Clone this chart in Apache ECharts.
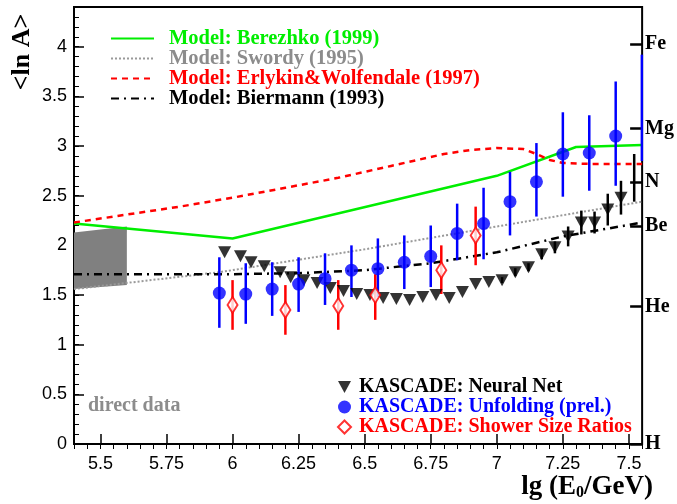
<!DOCTYPE html>
<html><head><meta charset="utf-8">
<script src="https://cdn.jsdelivr.net/npm/echarts@6/dist/echarts.min.js"></script>
<style>html,body{margin:0;padding:0;background:#fff}#c{width:677px;height:504px}</style>
</head><body><div id="c"></div>
<script>
// ---- axis ticks / labels ----
const xTickLabels = [5.5, 5.75, 6, 6.25, 6.5, 6.75, 7, 7.25, 7.5];
const yTickLabels = [0, 0.5, 1, 1.5, 2, 2.5, 3, 3.5, 4];
const elementNames = ['H', 'He', 'Be', 'N', 'Mg', 'Fe'];
const elementLnA = [0, 1.386, 2.197, 2.639, 3.178, 4.025];

// ---- models ----
const berX = [5.4, 6.0, 7.0, 7.3, 7.55];
const berY = [2.22, 2.07, 2.70, 2.99, 3.01];
const swoX = [5.4, 5.95, 6.5, 7.0, 7.55];
const swoY = [1.56, 1.73, 1.96, 2.19, 2.44];
const erlX = [5.4, 5.6, 5.8, 6.0, 6.2, 6.4, 6.6, 6.8, 6.9, 7.0, 7.1, 7.15, 7.2, 7.25, 7.35, 7.55];
const erlY = [2.23, 2.31, 2.39, 2.48, 2.58, 2.68, 2.80, 2.92, 2.96, 2.98, 2.97, 2.92, 2.86, 2.83, 2.82, 2.82];
const bieX = [5.4, 6.0, 6.25, 6.5, 6.75, 7.0, 7.25, 7.55];
const bieY = [1.71, 1.71, 1.72, 1.75, 1.82, 1.93, 2.09, 2.23];

// ---- direct data band ----
const directX = [5.4, 5.6];
const directLo = [1.56, 1.60];
const directHi = [2.13, 2.19];

// ---- KASCADE Neural Net ----
const nnX = [5.97, 6.03, 6.07, 6.12, 6.18, 6.22, 6.27, 6.32, 6.37, 6.42, 6.47, 6.52, 6.57, 6.62, 6.67, 6.72, 6.77, 6.82, 6.87, 6.92, 6.97, 7.02, 7.07, 7.12, 7.17, 7.22, 7.27, 7.32, 7.37, 7.42, 7.47, 7.52];
const nnY = [1.93, 1.89, 1.83, 1.79, 1.73, 1.68, 1.65, 1.62, 1.57, 1.54, 1.51, 1.50, 1.47, 1.46, 1.45, 1.48, 1.50, 1.47, 1.53, 1.61, 1.63, 1.65, 1.73, 1.78, 1.91, 1.98, 2.09, 2.23, 2.23, 2.36, 2.48, 2.68];
const nnErr = [0, 0, 0, 0, 0, 0, 0, 0, 0, 0, 0, 0, 0, 0, 0, 0, 0, 0, 0, 0, 0, 0.03, 0.04, 0.04, 0.05, 0.06, 0.10, 0.12, 0.11, 0.16, 0.17, 0.24];
const nnHidden = [31];

// ---- KASCADE Unfolding ----
const unfX = [5.95, 6.05, 6.15, 6.25, 6.35, 6.45, 6.55, 6.65, 6.75, 6.85, 6.95, 7.05, 7.15, 7.25, 7.35, 7.45, 7.549];
const unfY = [1.52, 1.51, 1.56, 1.61, 1.665, 1.75, 1.765, 1.83, 1.89, 2.12, 2.22, 2.44, 2.64, 2.92, 2.93, 3.10, 3.40];
const unfLo = [1.17, 1.21, 1.29, 1.33, 1.40, 1.48, 1.48, 1.56, 1.58, 1.85, 1.86, 2.10, 2.29, 2.49, 2.55, 2.60, 2.85];
const unfHi = [1.88, 1.82, 1.83, 1.88, 1.92, 2.00, 2.07, 2.10, 2.20, 2.42, 2.58, 2.74, 3.03, 3.34, 3.31, 3.65, 3.92];
const unfHidden = [16];

// ---- KASCADE Shower Size Ratios ----
const ssrX = [6.0, 6.2, 6.4, 6.54, 6.79, 6.92];
const ssrY = [1.40, 1.35, 1.39, 1.50, 1.75, 2.10];
const ssrLo = [1.15, 1.10, 1.15, 1.25, 1.51, 1.80];
const ssrHi = [1.65, 1.60, 1.65, 1.71, 2.00, 2.39];

const SERIF = '"Liberation Serif","Times New Roman",serif';
const SANS = '"Liberation Sans",Arial,sans-serif';
const GREEN = '#00ee00', GRAY = '#8c8c8c', RED = '#ff0000', BLUE = '#0000ff';

const zip = (a, b) => a.map((v, i) => [v, b[i]]);

function errSeries(data, color) {
  return {
    type: 'custom', z: 4, silent: true,
    encode: { x: 0, y: [1, 2] },
    data: data,
    renderItem: function (params, api) {
      const p1 = api.coord([api.value(0), api.value(1)]);
      const p2 = api.coord([api.value(0), api.value(2)]);
      return { type: 'line', shape: { x1: p1[0], y1: p1[1], x2: p2[0], y2: p2[1] },
               style: { stroke: color, lineWidth: 2.5 } };
    }
  };
}

const chart = echarts.init(document.getElementById('c'), null, { renderer: 'canvas' });
const gridBox = { left: 74, right: 33, top: 7, bottom: 60 };
const noSym = { color: 'rgba(0,0,0,0)', borderWidth: 0, opacity: 0 };

const option = {
  animation: false,
  backgroundColor: '#fff',
  grid: Object.assign({ show: true, borderColor: '#000', borderWidth: 2, backgroundColor: 'transparent' }, gridBox),
  xAxis: [
    { type: 'value', min: 5.4, max: 7.55, interval: 0.05,
      axisLine: { show: false }, splitLine: { show: false },
      axisTick: { show: true, inside: true, length: 10, lineStyle: { color: '#000', width: 1.5 }, customValues: xTickLabels },
      axisLabel: { show: true, customValues: xTickLabels, color: '#000', fontFamily: SANS, fontSize: 18, margin: 11,
                   formatter: v => String(+v.toFixed(2)) } },
    { type: 'value', min: 5.4, max: 7.55, interval: 0.05,
      axisLine: { show: false }, splitLine: { show: false }, axisLabel: { show: false },
      axisTick: { show: true, inside: true, length: 5, lineStyle: { color: '#000', width: 1 } } }
  ],
  yAxis: [
    { type: 'value', min: 0, max: 4.4, interval: 0.1,
      axisLine: { show: false }, splitLine: { show: false },
      axisTick: { show: true, inside: true, length: 10, lineStyle: { color: '#000', width: 1.5 }, customValues: yTickLabels },
      axisLabel: { show: true, customValues: yTickLabels, color: '#000', fontFamily: SANS, fontSize: 18, margin: 7,
                   formatter: v => String(+v.toFixed(1)) } },
    { type: 'value', min: 0, max: 4.4, interval: 0.1, position: 'left',
      axisLine: { show: false }, splitLine: { show: false }, axisLabel: { show: false },
      axisTick: { show: true, inside: true, length: 5, lineStyle: { color: '#000', width: 1 } } },
    { type: 'value', min: 0, max: 4.4, position: 'right',
      axisLine: { show: false }, splitLine: { show: false },
      axisTick: { show: true, inside: true, length: 12, lineStyle: { color: '#000', width: 2.5 }, customValues: elementLnA },
      axisLabel: { show: true, customValues: elementLnA, color: '#000', fontFamily: SERIF, fontWeight: 'bold', fontSize: 20, margin: 3,
                   formatter: v => { let bi = 0; elementLnA.forEach((e, i) => { if (Math.abs(e - v) < Math.abs(elementLnA[bi] - v)) bi = i; }); return elementNames[bi]; } } }
  ],
  legend: [
    { show: true, orient: 'vertical', left: 110, top: 28, padding: 0, itemWidth: 43, itemHeight: 14, itemGap: -1,
      itemStyle: noSym,
      textStyle: { fontFamily: SERIF, fontWeight: 'bold', fontSize: 20.5, lineHeight: 15, padding: [0, 0, 0, 10] },
      data: [
        { name: 'Model: Berezhko (1999)', textStyle: { color: GREEN }, itemStyle: noSym },
        { name: 'Model: Swordy (1995)', textStyle: { color: GRAY }, itemStyle: noSym },
        { name: 'Model: Erlykin&Wolfendale (1997)', textStyle: { color: RED }, itemStyle: noSym },
        { name: 'Model: Biermann (1993)', textStyle: { color: '#000' }, itemStyle: noSym }
      ] },
    { show: true, orient: 'vertical', left: 337, top: 377, padding: 0, itemWidth: 13, itemHeight: 13, itemGap: 0,
      textStyle: { fontFamily: SERIF, fontWeight: 'bold', fontSize: 20, lineHeight: 13, padding: [0, 0, 0, 3] },
      data: [
        { name: 'KASCADE: Neural Net', textStyle: { color: '#000' }, icon: 'path://M0,0 L12,0 L6,11 Z', itemStyle: { color: '#000' } },
        { name: 'KASCADE: Unfolding (prel.)', textStyle: { color: BLUE } },
        { name: 'KASCADE: Shower Size Ratios', textStyle: { color: RED } }
      ] }
  ],
  graphic: [
    { type: 'text', left: 88, top: 396, style: { text: 'direct data', fill: GRAY, font: 'bold 20px ' + SERIF } },
    { type: 'text', x: 22, y: 52, rotation: Math.PI / 2,
      style: { text: '<ln A>', fill: '#000', font: 'bold 26px ' + SERIF, align: 'center', verticalAlign: 'middle' } },
    { type: 'text', x: 653, y: 487,
      style: { text: 'lg (E{sub|0}/GeV)', fill: '#000', font: 'bold 27px ' + SERIF, align: 'right', verticalAlign: 'middle',
               rich: { sub: { font: 'bold 16px ' + SERIF, fill: '#000', verticalAlign: 'bottom', padding: [12, 0, 0, 0] } } } }
  ],
  series: [
    { type: 'custom', name: 'direct', z: 1, silent: true,
      encode: { x: [0, 3], y: [1, 2, 4, 5] },
      data: [[directX[0], directLo[0], directHi[0], directX[1], directLo[1], directHi[1]]],
      renderItem: function (params, api) {
        const a = api.coord([api.value(0), api.value(2)]);
        const b = api.coord([api.value(3), api.value(5)]);
        const c = api.coord([api.value(3), api.value(4)]);
        const d = api.coord([api.value(0), api.value(1)]);
        return { type: 'polygon', shape: { points: [a, b, c, d] }, style: { fill: '#808080' } };
      } },
    { type: 'line', name: 'Model: Berezhko (1999)', data: zip(berX, berY), showSymbol: false, symbol: 'none', z: 2,
      lineStyle: { color: GREEN, width: 2.5 }, itemStyle: { color: GREEN } },
    { type: 'line', name: 'Model: Swordy (1995)', data: zip(swoX, swoY), showSymbol: false, symbol: 'none', z: 2,
      lineStyle: { color: '#999', width: 2, type: [2, 2] }, itemStyle: { color: '#999' } },
    { type: 'line', name: 'Model: Erlykin&Wolfendale (1997)', data: zip(erlX, erlY), showSymbol: false, symbol: 'none', z: 2,
      lineStyle: { color: RED, width: 2.5, type: [6, 5] }, itemStyle: { color: RED } },
    { type: 'line', name: 'Model: Biermann (1993)', data: zip(bieX, bieY), showSymbol: false, symbol: 'none', z: 2,
      lineStyle: { color: '#000', width: 2.5, type: [8, 5, 2, 5] }, itemStyle: { color: '#000' } },
    errSeries(nnX.map((x, i) => [x, nnY[i] - nnErr[i], nnY[i] + nnErr[i]]).filter((d, i) => nnErr[i] > 0), '#000'),
    errSeries(unfX.map((x, i) => [x, unfLo[i], unfHi[i]]), BLUE),
    errSeries(ssrX.map((x, i) => [x, ssrLo[i], ssrHi[i]]), RED),
    { type: 'scatter', name: 'KASCADE: Neural Net', z: 5, symbol: 'triangle', symbolRotate: 180, symbolSize: [13, 12],
      itemStyle: { color: '#000' },
      data: nnX.map((x, i) => nnHidden.includes(i) ? { value: [x, nnY[i]], symbol: 'none' } : [x, nnY[i]]) },
    { type: 'scatter', name: 'KASCADE: Unfolding (prel.)', z: 5, symbol: 'circle', symbolSize: 13,
      itemStyle: { color: BLUE },
      data: unfX.map((x, i) => unfHidden.includes(i) ? { value: [x, unfY[i]], symbol: 'none' } : [x, unfY[i]]) },
    { type: 'scatter', name: 'KASCADE: Shower Size Ratios', z: 5, symbol: 'diamond', symbolSize: [10, 16],
      itemStyle: { color: '#fff', borderColor: RED, borderWidth: 2 },
      data: zip(ssrX, ssrY) }
  ]
};
chart.setOption(option);
</script>
</body></html>
